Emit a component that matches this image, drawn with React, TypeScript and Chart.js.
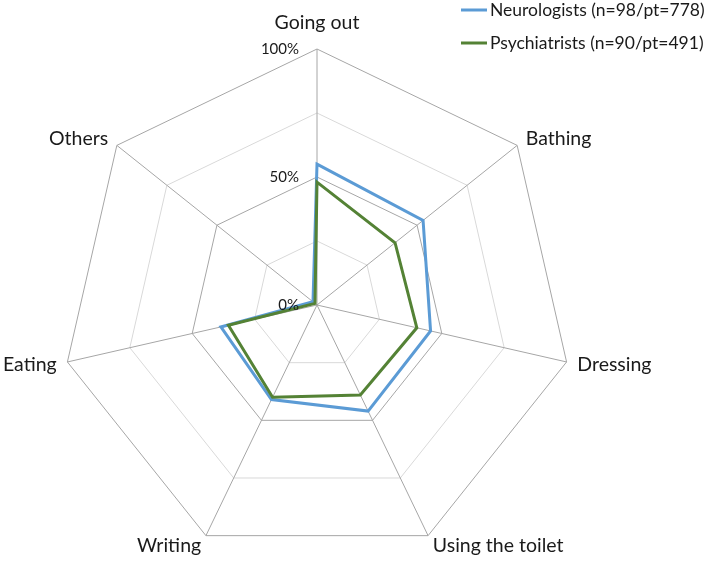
import { useEffect, useRef } from "react";
import { Chart, registerables } from "chart.js";
import type { ChartConfiguration, Plugin } from "chart.js";

Chart.register(...registerables);

// ============================================================================
// DATA
// ============================================================================
const categories = [
  "Going out",
  "Bathing",
  "Dressing",
  "Using the toilet",
  "Writing",
  "Eating",
  "Others",
];

// percentages
const neurologists = [55, 53, 45.5, 46, 41, 38.5, 2];
const psychiatrists = [48, 39, 40, 39, 40, 35.5, 1];

const tickValues = [0, 50, 100];

const seriesNames = [
  "Neurologists (n=98/pt=778)",
  "Psychiatrists (n=90/pt=491)",
];

// ============================================================================
// STYLE CONSTANTS
// ============================================================================
const BLUE = "#5B9BD5";
const GREEN = "#548235";
const TEXT = "#1a1a1a";
const FONT = "Lato, 'Noto Sans', sans-serif";

// labels, ticks and legend drawn on the canvas next to the radial scale
const labelsPlugin: Plugin<"radar"> = {
  id: "excelLabels",
  afterDraw(chart) {
    const scale: any = chart.scales.r;
    const ctx = chart.ctx;
    ctx.save();
    ctx.fillStyle = TEXT;

    // point labels
    ctx.font = `19.5px ${FONT}`;
    ctx.textBaseline = "middle";
    categories.forEach((label, i) => {
      const extra = i === 0 ? 26 : 11;
      const pos = scale.getPointPosition(i, scale.drawingArea + extra);
      const dx = pos.x - scale.xCenter;
      ctx.textAlign = Math.abs(dx) < 2 ? "center" : dx > 0 ? "left" : "right";
      ctx.fillText(label, pos.x, pos.y);
    });

    // tick labels, left of the first axis
    ctx.font = `15px ${FONT}`;
    ctx.textAlign = "right";
    tickValues.forEach((v) => {
      const y = scale.yCenter - scale.getDistanceFromCenterForValue(v);
      ctx.fillText(`${v}%`, scale.xCenter - 18, y);
    });

    // legend, top right
    ctx.font = `17.5px ${FONT}`;
    ctx.textAlign = "left";
    [BLUE, GREEN].forEach((color, i) => {
      const y = 10 + i * 33;
      ctx.strokeStyle = color;
      ctx.lineWidth = 3;
      ctx.beginPath();
      ctx.moveTo(461, y);
      ctx.lineTo(487, y);
      ctx.stroke();
      ctx.fillText(seriesNames[i], 490, y);
    });

    ctx.restore();
  },
};

const createChartConfig = (): ChartConfiguration<"radar"> => ({
  type: "radar",
  data: {
    labels: categories,
    datasets: [
      {
        label: seriesNames[0],
        data: neurologists,
        borderColor: BLUE,
        borderWidth: 3,
        pointRadius: 0,
        fill: false,
        order: 1,
      },
      {
        label: seriesNames[1],
        data: psychiatrists,
        borderColor: GREEN,
        borderWidth: 3,
        pointRadius: 0,
        fill: false,
        order: 0,
      },
    ],
  },
  options: {
    responsive: true,
    maintainAspectRatio: false,
    animation: false,
    layout: {
      padding: { left: 61, right: 136, top: 49, bottom: 0 },
    },
    plugins: {
      legend: { display: false },
      tooltip: { enabled: false },
    },
    elements: {
      line: { tension: 0, borderJoinStyle: "miter" },
    },
    scales: {
      r: {
        min: 0,
        max: 100,
        ticks: { display: false, stepSize: 25 },
        pointLabels: { display: false },
        grid: {
          color: (ctx: any) =>
            ctx.tick && ctx.tick.value % 50 === 0 ? "#a6a6a6" : "#d9d9d9",
          lineWidth: 1,
        },
        angleLines: { color: "#a6a6a6", lineWidth: 1 },
      },
    },
  },
  plugins: [labelsPlugin],
});

// ============================================================================
// MAIN COMPONENT
// ============================================================================
export default function App() {
  const chartRef = useRef<HTMLCanvasElement>(null);
  const chartInstance = useRef<Chart<"radar"> | null>(null);

  useEffect(() => {
    if (chartRef.current) {
      if (chartInstance.current) {
        chartInstance.current.destroy();
      }
      const ctx = chartRef.current.getContext("2d");
      if (ctx) {
        chartInstance.current = new Chart(ctx, createChartConfig());
      }
    }
    return () => {
      if (chartInstance.current) {
        chartInstance.current.destroy();
        chartInstance.current = null;
      }
    };
  }, []);

  return (
    <div
      style={{
        position: "fixed",
        left: 0,
        top: 0,
        width: 709,
        height: 561,
        background: "#fff",
      }}
    >
      <canvas ref={chartRef} aria-label="Radar chart"></canvas>
    </div>
  );
}
